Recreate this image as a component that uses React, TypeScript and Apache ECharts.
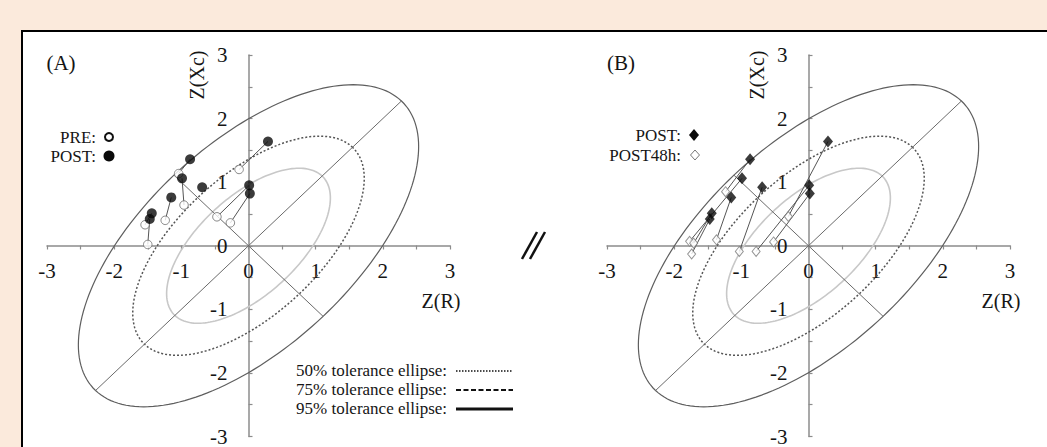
import React, { useEffect, useRef } from "react";
import * as echarts from "echarts";

// ---- data ----
const AXIS_TICKS = [-3, -2, -1, 0, 1, 2, 3];

// Panel A: PRE (open circles) and POST (filled circles)
const PRE_X = [-0.14, -1.04, -0.96, -0.47, -0.27, -1.24, -1.54, -1.5];
const PRE_Y = [1.2, 1.135, 0.64, 0.455, 0.36, 0.4, 0.33, 0.02];
const POST_X = [0.29, -0.87, -0.99, -0.69, 0.01, 0.02, -1.15, -1.44, -1.47];
const POST_Y = [1.64, 1.36, 1.06, 0.92, 0.95, 0.82, 0.76, 0.51, 0.42];
// pairs [PRE index, POST index]
const PAIRS_A = [[0, 0], [1, 1], [2, 2], [3, 4], [4, 5], [5, 6], [6, 7], [7, 8]];

// Panel B: POST48h (open diamonds), paired with POST of same index
const POST48_X = [-0.3, -1.235, -1.77, -1.03, -0.78, -0.52, -1.37, -1.71, -1.74];
const POST48_Y = [0.46, 0.85, 0.07, -0.09, -0.09, 0.06, 0.094, 0.04, -0.13];

// tolerance ellipses (50%, 75%, 95%): semi-major / semi-minor, 45° orientation
const ELLIPSE_LABELS = ["50% tolerance ellipse:", "75% tolerance ellipse:", "95% tolerance ellipse:"];
const ELLIPSE_A = [1.55, 2.19, 3.22];
const ELLIPSE_B = [0.755, 1.07, 1.57];

const FONT = '"Liberation Serif", "Times New Roman", serif';
const C = Math.SQRT1_2;

const GRID_W = 403;
const GRID_H = 382;
const TEXT = "#151515";

const ELLIPSE_STYLES = [
  { stroke: "#c8c8c8", lineWidth: 1.6 },
  { stroke: "#555", lineWidth: 1.5, lineDash: [2, 2] },
  { stroke: "#5e5e5e", lineWidth: 1.2 },
];

function axisFormatter(v: number) {
  return Number.isInteger(v) && AXIS_TICKS.indexOf(v) >= 0 ? String(v) : "";
}

function buildSeries(p: number) {
  const series: any[] = [];
  series.push({
    type: "custom",
    xAxisIndex: p,
    yAxisIndex: p,
    silent: true,
    z: 1,
    encode: { x: 0, y: 1 },
    data: ELLIPSE_A.map((_, i) => [0, 0, i]),
    renderItem: (params: any, api: any) => {
      const i = api.value(2);
      const a = ELLIPSE_A[i];
      const b = ELLIPSE_B[i];
      const pts: number[][] = [];
      const N = 180;
      for (let k = 0; k <= N; k++) {
        const t = (2 * Math.PI * k) / N;
        const u = a * Math.cos(t);
        const v = b * Math.sin(t);
        pts.push(api.coord([(u - v) * C, (u + v) * C]));
      }
      const st: any = ELLIPSE_STYLES[i];
      return {
        type: "polyline",
        shape: { points: pts },
        style: { stroke: st.stroke, lineWidth: st.lineWidth, lineDash: st.lineDash || null, fill: null },
      };
    },
  });
  const A = ELLIPSE_A[2], B = ELLIPSE_B[2];
  series.push({
    type: "lines",
    coordinateSystem: "cartesian2d",
    xAxisIndex: p,
    yAxisIndex: p,
    silent: true,
    z: 2,
    lineStyle: { color: "#6a6a6a", width: 1, opacity: 1 },
    data: [
      { coords: [[-A * C, -A * C], [A * C, A * C]] },
      { coords: [[-B * C, B * C], [B * C, -B * C]] },
    ],
  });
  if (p === 0) {
    series.push({
      type: "lines",
      coordinateSystem: "cartesian2d",
      xAxisIndex: 0,
      yAxisIndex: 0,
      silent: true,
      z: 3,
      lineStyle: { color: "#555", width: 1, opacity: 1 },
      data: PAIRS_A.map(([a, b]) => ({ coords: [[PRE_X[a], PRE_Y[a]], [POST_X[b], POST_Y[b]]] })),
    });
    series.push({
      type: "scatter",
      xAxisIndex: 0,
      yAxisIndex: 0,
      z: 4,
      symbol: "circle",
      symbolSize: 8.5,
      itemStyle: { color: "#fff", borderColor: "#6a6a6a", borderWidth: 1 },
      data: PRE_X.map((x, i) => [x, PRE_Y[i]]),
    });
    series.push({
      type: "scatter",
      xAxisIndex: 0,
      yAxisIndex: 0,
      z: 5,
      symbol: "circle",
      symbolSize: 10,
      itemStyle: { color: "#0a0a0a" },
      data: POST_X.map((x, i) => [x, POST_Y[i]]),
    });
  } else {
    series.push({
      type: "lines",
      coordinateSystem: "cartesian2d",
      xAxisIndex: 1,
      yAxisIndex: 1,
      silent: true,
      z: 3,
      lineStyle: { color: "#555", width: 1, opacity: 1 },
      data: POST_X.map((x, i) => ({ coords: [[x, POST_Y[i]], [POST48_X[i], POST48_Y[i]]] })),
    });
    series.push({
      type: "scatter",
      xAxisIndex: 1,
      yAxisIndex: 1,
      z: 4,
      symbol: "diamond",
      symbolSize: [8, 10],
      itemStyle: { color: "#fff", borderColor: "#7a7a7a", borderWidth: 1 },
      data: POST48_X.map((x, i) => [x, POST48_Y[i]]),
    });
    series.push({
      type: "scatter",
      xAxisIndex: 1,
      yAxisIndex: 1,
      z: 5,
      symbol: "diamond",
      symbolSize: [10, 12],
      itemStyle: { color: "#0a0a0a" },
      data: POST_X.map((x, i) => [x, POST_Y[i]]),
    });
  }
  return series;
}

function txt(text: string, x: number, y: number, size: number, align = "center", extra: any = {}) {
  return {
    type: "text",
    x,
    y,
    silent: true,
    ...extra,
    style: {
      text,
      fill: TEXT,
      font: `${size}px ${FONT}`,
      textAlign: align,
      textVerticalAlign: "middle",
    },
  };
}

export default function App() {
  const ref = useRef<HTMLDivElement>(null);
  useEffect(() => {
    if (!ref.current) return;
    const chart = echarts.init(ref.current, null, { renderer: "svg" });
    const axisColor = "#8c8c8c";
    const xAxis = [0, 1].map((i) => ({
      type: "value",
      gridIndex: i,
      position: "bottom",
      offset: -GRID_H / 2,
      min: -3,
      max: 3,
      interval: 0.5,
      axisLine: { onZero: false, lineStyle: { color: axisColor, width: 1.5 } },
      axisTick: { length: 4, lineStyle: { color: axisColor, width: 1.2 } },
      axisLabel: { formatter: axisFormatter, margin: 15, color: TEXT, fontSize: 21, fontFamily: FONT },
      splitLine: { show: false },
    }));
    const yAxis = [0, 1].map((i) => ({
      type: "value",
      gridIndex: i,
      position: "left",
      offset: -GRID_W / 2,
      min: -3,
      max: 3,
      interval: 0.5,
      axisLine: { onZero: false, lineStyle: { color: axisColor, width: 1.5 } },
      axisTick: { inside: true, length: 4, lineStyle: { color: axisColor, width: 1.2 } },
      axisLabel: { formatter: axisFormatter, margin: 21, color: TEXT, fontSize: 21, fontFamily: FONT },
      splitLine: { show: false },
    }));

    const graphic: any[] = [];
    // panel labels and axis names
    [0, 560].forEach((dx, p) => {
      graphic.push(txt(p === 0 ? "(A)" : "(B)", 61 + dx, 63, 21));
      graphic.push(txt("Z(Xc)", 197 + dx, 75, 20, "center", { rotation: Math.PI / 2 }));
      graphic.push(txt("Z(R)", 441 + dx, 301, 20));
    });
    // legend A
    graphic.push(txt("PRE:", 96, 137, 17, "right"));
    graphic.push(txt("POST:", 96, 156, 17, "right"));
    graphic.push({ type: "circle", shape: { cx: 109, cy: 137, r: 4 }, style: { fill: "#fff", stroke: "#111", lineWidth: 2 } });
    graphic.push({ type: "circle", shape: { cx: 109, cy: 156, r: 5.5 }, style: { fill: "#0a0a0a" } });
    // legend B
    graphic.push(txt("POST:", 681, 135, 17, "right"));
    graphic.push(txt("POST48h:", 681, 155, 17, "right"));
    graphic.push({ type: "polygon", shape: { points: [[694, 129], [699, 135], [694, 141], [689, 135]] }, style: { fill: "#0a0a0a" } });
    graphic.push({ type: "polygon", shape: { points: [[695, 150], [699.5, 155], [695, 160], [690.5, 155]] }, style: { fill: "#fff", stroke: "#777", lineWidth: 1 } });
    // ellipse legend
    const rows = [370, 389, 408];
    const legendLineStyles = [
      { stroke: "#111", lineWidth: 1.5, lineDash: [1.5, 1.5] },
      { stroke: "#111", lineWidth: 2, lineDash: [5, 2.5] },
      { stroke: "#111", lineWidth: 3 },
    ];
    ELLIPSE_LABELS.forEach((label, i) => {
      graphic.push(txt(label, 296, rows[i], 17, "left"));
      graphic.push({
        type: "line",
        shape: { x1: 456, y1: rows[i] + 1, x2: 513, y2: rows[i] + 1 },
        style: legendLineStyles[i],
      });
    });
    // axis break mark "//"
    graphic.push({ type: "line", shape: { x1: 522, y1: 259, x2: 537, y2: 232 }, style: { stroke: "#111", lineWidth: 2.5 } });
    graphic.push({ type: "line", shape: { x1: 530, y1: 259, x2: 545, y2: 232 }, style: { stroke: "#111", lineWidth: 2.5 } });

    chart.setOption({
      animation: false,
      grid: [
        { left: 47, top: 55, width: GRID_W, height: GRID_H },
        { left: 607, top: 55, width: GRID_W, height: GRID_H },
      ],
      xAxis,
      yAxis,
      series: [...buildSeries(0), ...buildSeries(1)],
      graphic,
    });
    return () => chart.dispose();
  }, []);

  return (
    <div style={{ position: "absolute", left: 0, top: 0, width: 1047, height: 447, background: "#fbeadc", overflow: "hidden" }}>
      <div style={{ position: "absolute", left: 21, top: 30, width: 1100, height: 500, background: "#fff", border: "2px solid #000" }} />
      <div ref={ref} style={{ position: "absolute", left: 0, top: 0, width: 1047, height: 447 }} />
    </div>
  );
}
